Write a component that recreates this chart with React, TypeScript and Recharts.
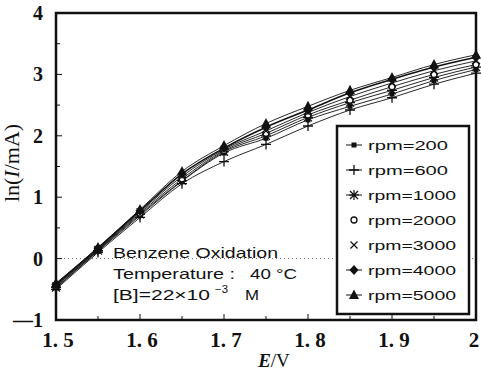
import { LineChart, Line, XAxis, YAxis, ReferenceLine, ReferenceArea } from "recharts";

// E / V
const E = [1.5, 1.55, 1.6, 1.65, 1.7, 1.75, 1.8, 1.85, 1.9, 1.95, 2.0];

// ln(I/mA) for each rotation speed
const rpm200 = [-0.48, 0.12, 0.7, 1.26, 1.72, 1.96, 2.26, 2.48, 2.68, 2.9, 3.08];
const rpm600 = [-0.5, 0.1, 0.67, 1.22, 1.58, 1.86, 2.16, 2.42, 2.62, 2.84, 3.02];
const rpm1000 = [-0.47, 0.13, 0.72, 1.27, 1.74, 2.0, 2.3, 2.54, 2.74, 2.95, 3.12];
const rpm2000 = [-0.45, 0.14, 0.74, 1.3, 1.76, 2.04, 2.34, 2.58, 2.8, 3.0, 3.16];
const rpm3000 = [-0.44, 0.15, 0.76, 1.34, 1.78, 2.08, 2.38, 2.64, 2.86, 3.06, 3.22];
const rpm4000 = [-0.42, 0.17, 0.78, 1.38, 1.8, 2.14, 2.42, 2.7, 2.92, 3.12, 3.28];
const rpm5000 = [-0.4, 0.18, 0.8, 1.42, 1.84, 2.2, 2.48, 2.74, 2.95, 3.16, 3.32];

const xTicks = [1.5, 1.55, 1.6, 1.65, 1.7, 1.75, 1.8, 1.85, 1.9, 1.95, 2.0];
const yTicks = [-1, -0.5, 0, 0.5, 1, 1.5, 2, 2.5, 3, 3.5, 4];

type Shape = "square" | "plus" | "star" | "ring" | "cross" | "diamond" | "triangle";

const series: { key: string; name: string; shape: Shape; values: number[] }[] = [
  { key: "r200", name: "rpm=200", shape: "square", values: rpm200 },
  { key: "r600", name: "rpm=600", shape: "plus", values: rpm600 },
  { key: "r1000", name: "rpm=1000", shape: "star", values: rpm1000 },
  { key: "r2000", name: "rpm=2000", shape: "ring", values: rpm2000 },
  { key: "r3000", name: "rpm=3000", shape: "cross", values: rpm3000 },
  { key: "r4000", name: "rpm=4000", shape: "diamond", values: rpm4000 },
  { key: "r5000", name: "rpm=5000", shape: "triangle", values: rpm5000 },
];

const rows = E.map((e, i) => {
  const row: Record<string, number> = { e };
  series.forEach((s) => (row[s.key] = s.values[i]));
  return row;
});

const INK = "#111";

function Marker({ x, y, shape }: { x: number; y: number; shape: Shape }) {
  switch (shape) {
    case "square":
      return <rect x={x - 2.5} y={y - 2.5} width={5} height={5} fill={INK} />;
    case "plus":
      return (
        <path d={`M${x - 5},${y}H${x + 5}M${x},${y - 5}V${y + 5}`} stroke={INK} strokeWidth={1.3} />
      );
    case "star":
      return (
        <path
          d={`M${x - 5},${y}H${x + 5}M${x},${y - 5}V${y + 5}M${x - 4},${y - 4}L${x + 4},${y + 4}M${x - 4},${y + 4}L${x + 4},${y - 4}`}
          stroke={INK}
          strokeWidth={1.2}
        />
      );
    case "ring":
      return <circle cx={x} cy={y} r={3} fill="#fff" stroke={INK} strokeWidth={1.3} />;
    case "cross":
      return (
        <path
          d={`M${x - 3.5},${y - 3.5}L${x + 3.5},${y + 3.5}M${x - 3.5},${y + 3.5}L${x + 3.5},${y - 3.5}`}
          stroke={INK}
          strokeWidth={1.2}
        />
      );
    case "diamond":
      return <path d={`M${x},${y - 5}L${x + 4.5},${y}L${x},${y + 5}L${x - 4.5},${y}Z`} fill={INK} />;
    case "triangle":
      return <path d={`M${x},${y - 5.5}L${x + 5},${y + 4}L${x - 5},${y + 4}Z`} fill={INK} />;
  }
}

const serif = "'Liberation Serif', 'Times New Roman', serif";
const sans = "'Liberation Sans', Arial, Helvetica, sans-serif";

function isMajor(v: number, step: number) {
  const k = v / step;
  return Math.abs(k - Math.round(k)) < 1e-6;
}

function XTick(props: any) {
  const { x, y, payload } = props;
  const v = payload.value as number;
  const major = isMajor(v, 0.1);
  const label = v === 2 ? "2" : v.toFixed(1).replace(".", ". ");
  return (
    <g>
      <line x1={x} y1={y} x2={x} y2={y - (major ? 6 : 4)} stroke={INK} strokeWidth={1} />
      {major && (
        <text
          x={v === 2 ? x - 2 : x + 2}
          y={y + 27}
          textAnchor="middle"
          fontFamily={serif}
          fontWeight="bold"
          fontSize={21}
          fill={INK}
        >
          {label}
        </text>
      )}
    </g>
  );
}

function YTick(props: any) {
  const { x, y, payload } = props;
  const v = payload.value as number;
  const major = isMajor(v, 1);
  return (
    <g>
      <line x1={x} y1={y} x2={x + (major ? 6 : 4)} y2={y} stroke={INK} strokeWidth={1} />
      {major && (
        <text x={x - 13} y={y + 7} textAnchor="end" fontFamily={serif} fontWeight="bold" fontSize={20} fill={INK}>
          {v === -1 ? "—1" : String(v)}
        </text>
      )}
    </g>
  );
}

export default function App() {
  return (
    <div style={{ position: "absolute", left: 0, top: 0, width: 481, height: 371, background: "#fff" }}>
      <LineChart width={481} height={371} data={rows} margin={{ top: 13, right: 5, left: 0, bottom: 0 }}>
        <XAxis
          dataKey="e"
          type="number"
          domain={[1.5, 2]}
          ticks={xTicks}
          axisLine={false}
          tickLine={false}
          tickSize={0}
          tickMargin={0}
          height={51}
          tick={<XTick />}
          interval={0}
        />
        <YAxis
          type="number"
          domain={[-1, 4]}
          ticks={yTicks}
          axisLine={false}
          tickLine={false}
          tickSize={0}
          tickMargin={0}
          width={56}
          tick={<YTick />}
          interval={0}
        />
        <ReferenceLine y={0} stroke="#666" strokeDasharray="1 3" strokeWidth={1} />
        {series.map((s) => (
          <Line
            key={s.key}
            dataKey={s.key}
            name={s.name}
            type="monotone"
            stroke={INK}
            strokeWidth={s.key === "r4000" ? 1.6 : 0.9}
            isAnimationActive={false}
            dot={(p: any) => <Marker key={`${s.key}-${p.index}`} x={p.cx} y={p.cy} shape={s.shape} />}
          />
        ))}
        <ReferenceArea x1={1.5} x2={2} y1={-1} y2={4} fill="none" stroke={INK} strokeWidth={2.5} ifOverflow="visible" />
      </LineChart>

      <svg
        width={481}
        height={371}
        style={{ position: "absolute", left: 0, top: 0, pointerEvents: "none" }}
      >
        {/* annotation */}
        <g fontFamily={sans} fontSize={15} fill={INK}>
          <text x={113} y={258} textLength={165} lengthAdjust="spacingAndGlyphs">Benzene Oxidation</text>
          <text x={113} y={279} textLength={122} lengthAdjust="spacingAndGlyphs">Temperature :</text>
          <text x={250} y={279} textLength={47} lengthAdjust="spacingAndGlyphs">40 °C</text>
          <text x={113} y={300} textLength={97} lengthAdjust="spacingAndGlyphs">[B]=22×10</text>
          <text x={215} y={293} fontSize={10} textLength={13} lengthAdjust="spacingAndGlyphs">−3</text>
          <text x={245} y={300} textLength={14} lengthAdjust="spacingAndGlyphs">M</text>
        </g>

        {/* legend */}
        <rect x={337} y={126} width={132} height={188} fill="#fff" stroke={INK} strokeWidth={2.5} />
        {series.map((s, i) => {
          const cy = 145 + i * 25;
          return (
            <g key={s.key}>
              {s.shape !== "ring" && s.shape !== "cross" && (
                <line x1={346} x2={362} y1={cy} y2={cy} stroke={INK} strokeWidth={1} />
              )}
              <Marker x={354} y={cy} shape={s.shape} />
              <text
                x={368}
                y={cy + 5}
                fontFamily={sans}
                fontSize={13}
                fill={INK}
                textLength={s.name.length > 7 ? 88 : 80}
                lengthAdjust="spacingAndGlyphs"
              >
                {s.name}
              </text>
            </g>
          );
        })}

        {/* axis titles */}
        <text x={274} y={367} textAnchor="middle" fontFamily={serif} fontSize={19} fill={INK}>
          <tspan fontStyle="italic" fontWeight="bold">E</tspan>/V
        </text>
        <text
          transform="translate(19,163) rotate(-90)"
          textAnchor="middle"
          fontFamily={serif}
          fontSize={22}
          fill={INK}
        >
          ln(<tspan fontStyle="italic">I</tspan>/mA)
        </text>
      </svg>
    </div>
  );
}
